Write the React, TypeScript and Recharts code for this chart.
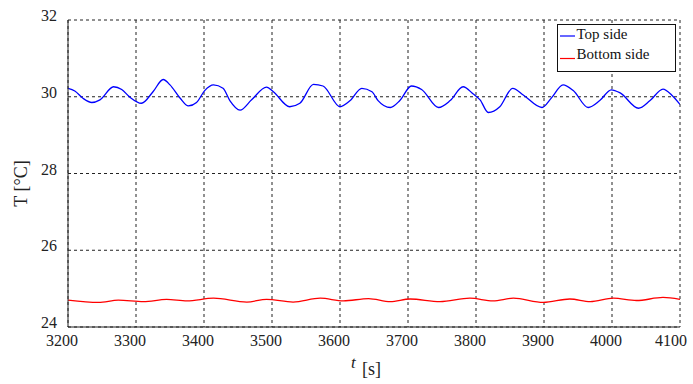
import { LineChart, Line, XAxis, YAxis, CartesianGrid, Legend, Label } from 'recharts';

const topTime = [
  3200, 3210, 3222, 3235, 3247, 3267, 3279, 3291, 3308, 3325, 3340, 3350, 3365, 3377, 3389, 3401,
  3414, 3428, 3438, 3453, 3470, 3492, 3502, 3526, 3541, 3561, 3575, 3600, 3615, 3632, 3647, 3656,
  3674, 3688, 3705, 3720, 3745, 3762, 3781, 3796, 3806, 3818, 3835, 3854, 3870, 3897, 3911, 3928,
  3943, 3965, 3982, 3999, 4012, 4039, 4056, 4075, 4088, 4100,
];
const topTemp = [
  30.22, 30.15, 29.96, 29.85, 29.92, 30.26, 30.19, 29.99, 29.83, 30.13, 30.45, 30.31, 29.96, 29.76, 29.85, 30.16,
  30.31, 30.22, 29.9, 29.65, 29.92, 30.25, 30.13, 29.74, 29.83, 30.32, 30.28, 29.74, 29.9, 30.22, 30.13, 29.9,
  29.72, 29.9, 30.28, 30.19, 29.72, 29.9, 30.26, 30.07, 29.92, 29.59, 29.74, 30.22, 30.04, 29.72, 29.97, 30.31,
  30.16, 29.72, 29.9, 30.18, 30.1, 29.7, 29.9, 30.2, 30.04, 29.8,
];

const bottomTime = [
  3200, 3245, 3274, 3311, 3345, 3375, 3414, 3463, 3492, 3531, 3571, 3605, 3642, 3674, 3703, 3747,
  3791, 3825, 3855, 3899, 3938, 3968, 4002, 4036, 4075, 4100,
];
const bottomTemp = [
  24.7, 24.64, 24.7, 24.66, 24.72, 24.68, 24.75, 24.65, 24.72, 24.65, 24.75, 24.68, 24.74, 24.66, 24.73, 24.66,
  24.75, 24.68, 24.75, 24.64, 24.73, 24.66, 24.75, 24.69, 24.77, 24.72,
];

const seriesNames = ['Top side', 'Bottom side'];
const xTicks = [3200, 3300, 3400, 3500, 3600, 3700, 3800, 3900, 4000, 4100];
const yTicks = [24, 26, 28, 30, 32];

const topData = topTime.map((t, i) => ({ t, v: topTemp[i] }));
const bottomData = bottomTime.map((t, i) => ({ t, v: bottomTemp[i] }));

const font = 'Liberation Serif';
const ink = '#222';

function LegendBox({ payload }: any) {
  const items = [...(payload || [])].sort(
    (a: any, b: any) => seriesNames.indexOf(a.value) - seriesNames.indexOf(b.value)
  );
  return (
    <svg width={119} height={48} style={{ display: 'block' }}>
      <rect x={0.5} y={0.5} width={118} height={47} fill="#fff" stroke="#111" />
      {items.map((p: any, i: number) => (
        <g key={p.value}>
          <line x1={3} x2={18} y1={i === 0 ? 12 : 34.5} y2={i === 0 ? 12 : 34.5} stroke={p.color} strokeWidth={1.2} />
          <text x={19.5} y={15 + i * 20.3} fontFamily={font} fontSize={15} fill="#111">
            {p.value}
          </text>
        </g>
      ))}
    </svg>
  );
}

function XTick({ x, y, payload }: any) {
  return (
    <text x={x - 6} y={y + 11} textAnchor="middle" fontFamily={font} fontSize={16} fill={ink}>
      {payload.value}
    </text>
  );
}

function YTick({ x, y, payload }: any) {
  return (
    <text x={x} y={y + 1} textAnchor="end" fontFamily={font} fontSize={16} fill={ink}>
      {payload.value}
    </text>
  );
}

export default function App() {
  return (
    <div style={{ position: 'absolute', left: 0, top: 0, background: '#fff', fontFamily: font }}>
      <LineChart width={693} height={384} margin={{ top: 20, right: 13, left: 0, bottom: 27 }} style={{ fontFamily: font }}>
        <CartesianGrid stroke="#222" strokeDasharray="3 3" />
        <XAxis
          dataKey="t"
          type="number"
          domain={[3200, 4100]}
          ticks={xTicks}
          allowDataOverflow
          height={30}
          axisLine={{ stroke: ink }}
          tickLine={false}
          tick={<XTick />}
        >
          <Label
            content={({ viewBox }: any) => {
              const cx = viewBox.x + viewBox.width / 2;
              return (
                <g fontFamily={font} fill={ink}>
                  <text x={cx - 23} y={368} fontSize={17} fontStyle="italic">t</text>
                  <text x={cx - 12} y={375} fontSize={18}>[s]</text>
                </g>
              );
            }}
          />
        </XAxis>
        <XAxis xAxisId="top" orientation="top" type="number" domain={[3200, 4100]} height={0} tick={false} tickLine={false} axisLine={{ stroke: '#444' }} />
        <YAxis
          type="number"
          domain={[24, 32]}
          ticks={yTicks}
          allowDataOverflow
          width={68}
          axisLine={{ stroke: ink }}
          tickLine={false}
          tickSize={6}
          tickMargin={5}
          tick={<YTick />}
        >
          <Label
            content={({ viewBox }: any) => {
              const x = viewBox.x + 27;
              const y = viewBox.y + viewBox.height / 2 + 10;
              return (
                <text x={x} y={y} transform={`rotate(-90 ${x} ${y})`} textAnchor="middle" fontFamily={font} fontSize={18} fill={ink}>
                  T [°C]
                </text>
              );
            }}
          />
        </YAxis>
        <YAxis yAxisId="right" orientation="right" type="number" domain={[24, 32]} width={0} tick={false} tickLine={false} axisLine={{ stroke: '#444' }} />
        <Legend
          layout="vertical"
          align="center"
          verticalAlign="middle"
          content={<LegendBox />}
          wrapperStyle={{ left: 557, top: 24, width: 119, height: 48, margin: 0 }}
        />
        <Line data={topData} dataKey="v" name="Top side" type="monotone" stroke="#0000ff" strokeWidth={1.3} dot={false} isAnimationActive={false} />
        <Line data={bottomData} dataKey="v" name="Bottom side" type="monotone" stroke="#ff0000" strokeWidth={1.3} dot={false} isAnimationActive={false} />
      </LineChart>
    </div>
  );
}
